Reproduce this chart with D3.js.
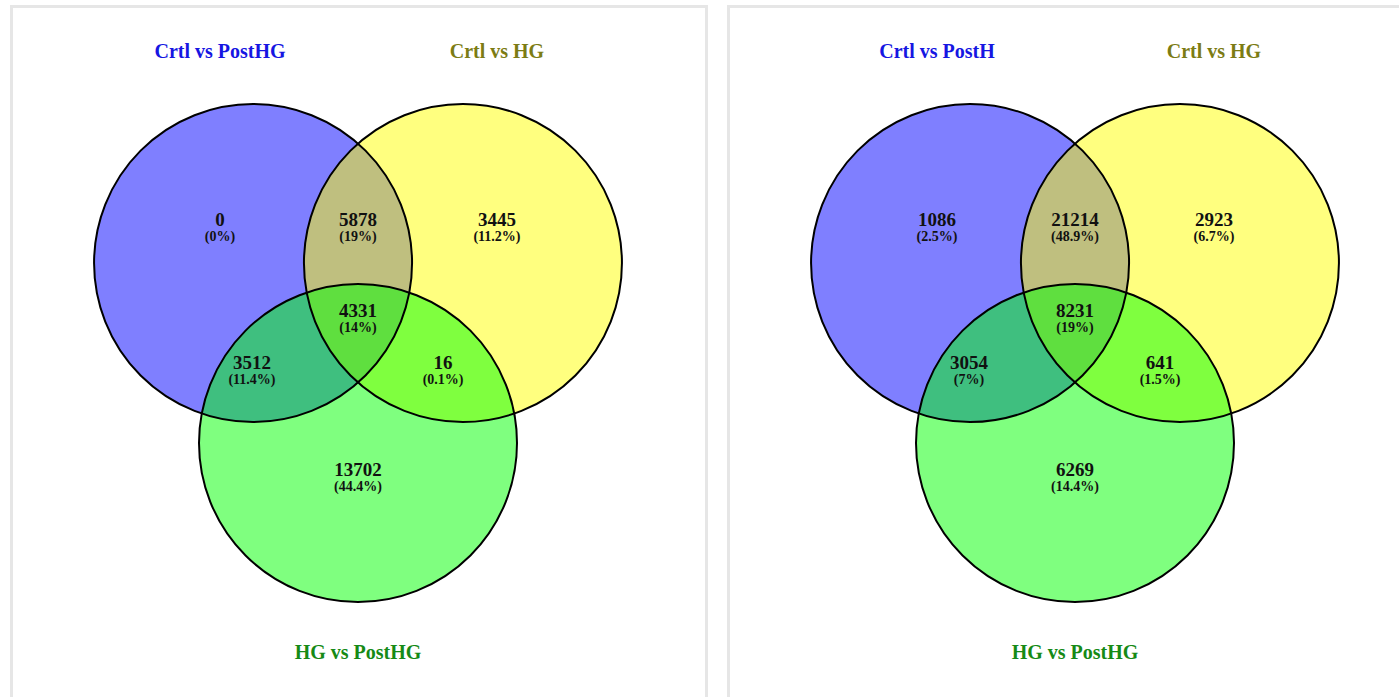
<!DOCTYPE html>
<html>
<head>
<meta charset="utf-8">
<script src="https://cdn.jsdelivr.net/npm/d3@7"></script>
<style>
  body { margin: 0; background: #ffffff; }
  svg text { font-family: "Liberation Serif", "Times New Roman", serif; font-weight: bold; }
</style>
</head>
<body>
<svg id="chart" width="1399" height="697"></svg>
<script>
// set names for each panel
const leftSetNames = ['Crtl vs PostHG', 'Crtl vs HG', 'HG vs PostHG'];
const rightSetNames = ['Crtl vs PostH', 'Crtl vs HG', 'HG vs PostHG'];

// region order: A only, A&B, B only, A&B&C, A&C, B&C, C only
const regionKeys = ['A', 'AB', 'B', 'ABC', 'AC', 'BC', 'C'];
const leftCounts = [0, 5878, 3445, 4331, 3512, 16, 13702];
const leftPercents = ['0%', '19%', '11.2%', '14%', '11.4%', '0.1%', '44.4%'];
const rightCounts = [1086, 21214, 2923, 8231, 3054, 641, 6269];
const rightPercents = ['2.5%', '48.9%', '6.7%', '19%', '7%', '1.5%', '14.4%'];

// layout, in circle-radius units around the centroid of the three circles
const circleLayout = [
    {x: -0.66, y: -0.377, fill: '#0000ff'},
    {x: 0.66, y: -0.377, fill: '#ffff00'},
    {x: 0, y: 0.755, fill: '#00ff00'}
];
const titleLayout = [
    {x: -0.868, y: -1.667, color: '#1616e2'},
    {x: 0.874, y: -1.667, color: '#7c7c14'},
    {x: 0, y: 2.113, color: '#168a16'}
];
const labelLayout = {
    A: {x: -0.868, y: -0.61},
    AB: {x: 0, y: -0.61},
    B: {x: 0.874, y: -0.61},
    ABC: {x: 0, y: -0.038},
    AC: {x: -0.667, y: 0.289},
    BC: {x: 0.535, y: 0.289},
    C: {x: 0, y: 0.962}
};

const radius = 159;
const panelWidth = 698;
const panelOffset = 717;

const svg = d3.select('#chart');

function drawPanel(index, setNames, counts, percents) {
    const left = 10 + index * panelOffset;
    const g = svg.append('g');

    // panel frame
    g.append('rect')
        .attr('x', left + 1.5)
        .attr('y', 6.5)
        .attr('width', panelWidth - 3)
        .attr('height', 800)
        .attr('fill', '#ffffff')
        .attr('stroke', '#e6e6e6')
        .attr('stroke-width', 3);

    const cx = left + 348;
    const cy = 323;
    const x = d3.scaleLinear().domain([-1, 1]).range([cx - radius, cx + radius]);
    const y = d3.scaleLinear().domain([-1, 1]).range([cy - radius, cy + radius]);
    const r = d3.scaleLinear().domain([0, 1]).range([0, radius]);

    // fills first, outlines on top
    g.append('g')
        .selectAll('circle')
        .data(circleLayout)
        .enter()
        .append('circle')
        .attr('cx', d => x(d.x))
        .attr('cy', d => y(d.y))
        .attr('r', r(1))
        .attr('fill', d => d.fill)
        .attr('fill-opacity', 0.5);

    g.append('g')
        .selectAll('circle')
        .data(circleLayout)
        .enter()
        .append('circle')
        .attr('cx', d => x(d.x))
        .attr('cy', d => y(d.y))
        .attr('r', r(1))
        .attr('fill', 'none')
        .attr('stroke', '#000000')
        .attr('stroke-width', 2);

    // set titles
    g.append('g')
        .selectAll('text')
        .data(setNames)
        .enter()
        .append('text')
        .attr('x', (d, i) => x(titleLayout[i].x))
        .attr('y', (d, i) => y(titleLayout[i].y))
        .attr('text-anchor', 'middle')
        .attr('font-size', 20)
        .attr('fill', (d, i) => titleLayout[i].color)
        .text(d => d);

    const regions = regionKeys.map((k, i) => ({key: k, count: counts[i], pct: percents[i]}));

    const labels = g.append('g')
        .selectAll('g')
        .data(regions)
        .enter()
        .append('g')
        .attr('transform', d => `translate(${x(labelLayout[d.key].x)},${y(labelLayout[d.key].y)})`);

    labels.append('text')
        .attr('text-anchor', 'middle')
        .attr('font-size', 19)
        .attr('fill', '#111111')
        .text(d => d.count);

    labels.append('text')
        .attr('text-anchor', 'middle')
        .attr('y', 15)
        .attr('font-size', 14)
        .attr('fill', '#111111')
        .text(d => `(${d.pct})`);
}

drawPanel(0, leftSetNames, leftCounts, leftPercents);
drawPanel(1, rightSetNames, rightCounts, rightPercents);
</script>
</body>
</html>
